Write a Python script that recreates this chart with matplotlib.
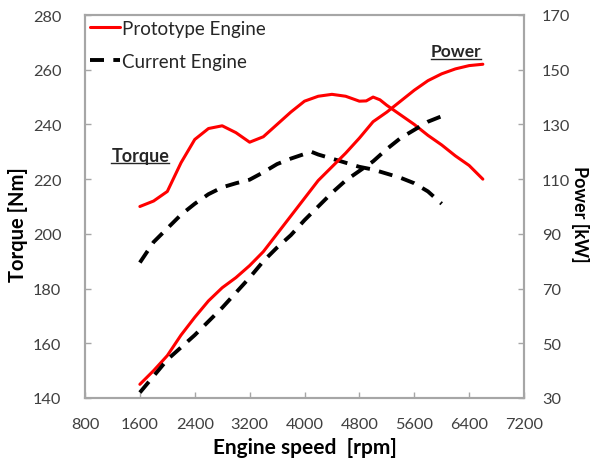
import matplotlib
matplotlib.use("Agg")
import matplotlib.pyplot as plt

plt.rcParams['font.family'] = ['Lato', 'DejaVu Sans']

# ---- data ----
proto_torque_rpm = [1600, 1800, 2000, 2200, 2400, 2600, 2800, 3000, 3200, 3400, 3600, 3800,
                    4000, 4200, 4400, 4600, 4800, 4900, 5000, 5100, 5200, 5400, 5600, 5800,
                    6000, 6200, 6400, 6600]
proto_torque = [210, 212, 215.5, 226, 234.5, 238.5, 239.5, 237, 233.5, 235.5, 240, 244.5,
                248.5, 250.3, 251, 250.3, 248.5, 248.6, 250, 249, 247, 243.5, 240, 236,
                232.5, 228.5, 225, 220]

proto_power_rpm = [1600, 1800, 2000, 2200, 2400, 2600, 2800, 3000, 3200, 3400, 3600, 3800,
                   4000, 4200, 4400, 4600, 4800, 5000, 5200, 5400, 5600, 5800, 6000, 6200,
                   6400, 6600]
proto_power = [35, 40, 45.5, 53, 59.5, 65.5, 70.3, 74, 78.4, 83.5, 90, 96.5,
               103, 109.5, 114.5, 119.5, 125, 131, 134.5, 138.5, 142.5, 146, 148.5, 150.3,
               151.5, 152]

curr_torque_rpm = [1600, 1800, 2000, 2200, 2400, 2600, 2800, 3000, 3200, 3400, 3600, 3800,
                   4000, 4100, 4200, 4400, 4600, 4800, 5000, 5200, 5400, 5600, 5800, 6000]
curr_torque = [189.5, 197, 202, 207, 211, 214.5, 217, 218.5, 219.8, 222.5, 225.5, 227.5,
               229.2, 230, 229, 227.5, 226, 224.5, 223.5, 222, 220.5, 218.5, 215.5, 211]

curr_power_rpm = [1600, 1800, 2000, 2200, 2400, 2600, 2800, 3000, 3200, 3400, 3600, 3800,
                  4000, 4200, 4400, 4600, 4800, 5000, 5200, 5400, 5600, 5800, 6000]
curr_power = [32, 38, 44, 48.5, 53, 58, 63, 68.5, 74, 80, 85, 89.5,
              95, 100, 105, 109.5, 113, 116.5, 121, 125, 128, 131, 133]

x_ticks = [800, 1600, 2400, 3200, 4000, 4800, 5600, 6400, 7200]
torque_ticks = [140, 160, 180, 200, 220, 240, 260, 280]
power_ticks = [30, 50, 70, 90, 110, 130, 150, 170]

RED = '#ff0000'
BLACK = '#000000'
SPINE = '#a6a6a6'
TICKC = '#404040'

fig = plt.figure(figsize=(5.94, 4.60), dpi=100)
ax = fig.add_axes([85/594, 1-399/460, (524-85)/594, (399-16)/460])
ax2 = ax.twinx()

lw = 2.2
l1, = ax.plot(proto_torque_rpm, proto_torque, color=RED, lw=lw, solid_capstyle='round')
l2, = ax.plot(curr_torque_rpm, curr_torque, color=BLACK, lw=lw + 0.6, dashes=(3.6, 2.4))
ax2.plot(proto_power_rpm, proto_power, color=RED, lw=lw, solid_capstyle='round')
ax2.plot(curr_power_rpm, curr_power, color=BLACK, lw=lw + 0.6, dashes=(3.6, 2.4))

ax.set_xlim(800, 7200)
ax.set_ylim(140, 280)
ax2.set_ylim(30, 170)
ax.set_xticks(x_ticks)
ax.set_yticks(torque_ticks)
ax2.set_yticks(power_ticks)

for a in (ax, ax2):
    for s in a.spines.values():
        s.set_color(SPINE)
        s.set_linewidth(1.5)
    a.tick_params(direction='in', length=4, width=1, color=SPINE,
                  labelsize=11.8, labelcolor=TICKC)
ax.tick_params(axis='x', pad=14)
ax.tick_params(axis='y', pad=17)
ax2.tick_params(axis='y', pad=13)

ax.set_xlabel('Engine speed  [rpm]', fontsize=15, fontweight='bold', labelpad=4)
ax.set_ylabel('Torque [Nm]', fontsize=14.5, fontweight='bold')
ax2.set_ylabel('Power [kW]', fontsize=13, fontweight='bold', rotation=270)
ax.yaxis.label.set(va='center', ha='center', rotation_mode='default')
ax2.yaxis.label.set(va='center', ha='center', rotation_mode='default')
ax.yaxis.set_label_coords((18 - 85) / 439, (399 - 225) / 383)
ax2.yaxis.set_label_coords((580 - 85) / 439, (399 - 214) / 383)

leg = ax.legend([l1, l2], ['Prototype Engine', 'Current Engine'], loc='upper left',
                frameon=False, fontsize=13.5, handlelength=1.6, handletextpad=0.1,
                borderaxespad=0.0, borderpad=0.25, labelspacing=0.85, labelcolor='#262626')

t1 = ax.text(0.126, 0.634, 'Torque', transform=ax.transAxes, fontsize=13,
             fontweight='bold', ha='center', va='center', color='#262626')
t2 = ax.text(0.845, 0.905, 'Power', transform=ax.transAxes, fontsize=12.5,
             fontweight='bold', ha='center', va='center', color='#262626')

# underline the two annotations
fig.canvas.draw()
r = fig.canvas.get_renderer()
inv = ax.transAxes.inverted()
for t in (t1, t2):
    bb = t.get_window_extent(renderer=r)
    (x0, y0), (x1_, y1_) = inv.transform([[bb.x0, bb.y0], [bb.x1, bb.y1]])
    ax.plot([x0, x1_], [y0 + 0.002, y0 + 0.002], transform=ax.transAxes,
            color='#262626', lw=1.0, clip_on=False)

fig.savefig('out.png', dpi=100)
